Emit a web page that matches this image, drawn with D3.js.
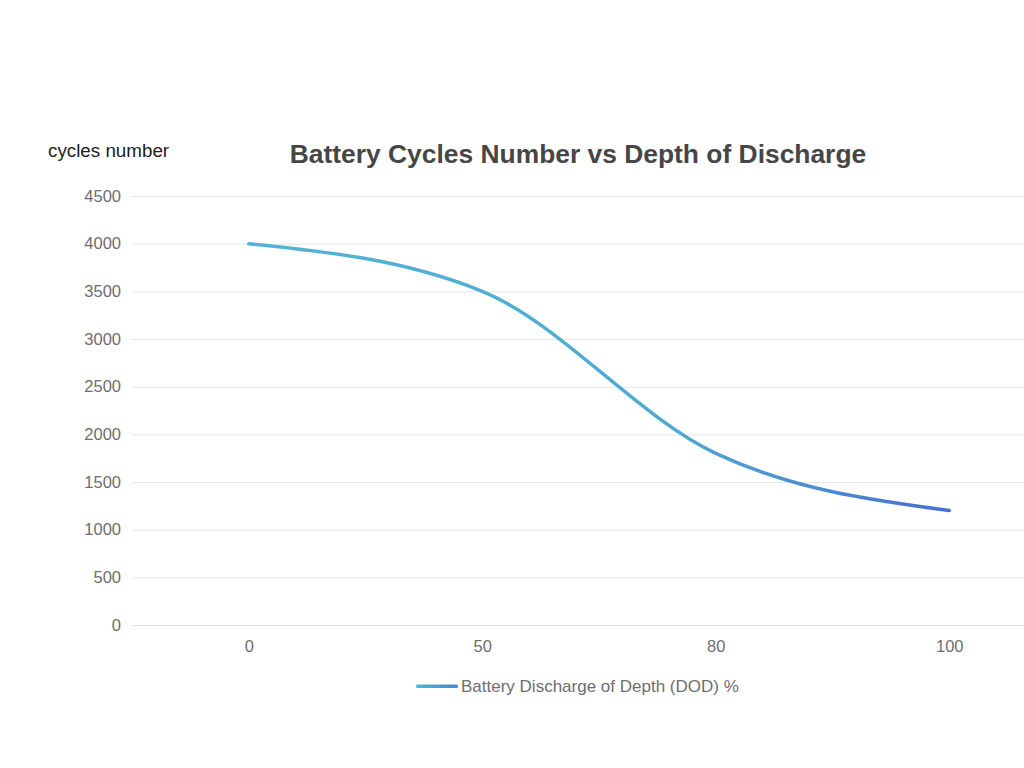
<!DOCTYPE html>
<html><head><meta charset="utf-8">
<script src="https://cdn.jsdelivr.net/npm/d3@7"></script>
<style>body{margin:0;background:#fff;overflow:hidden}svg{display:block}</style>
</head><body>
<svg id="c" width="1024" height="768"></svg>
<script>
const categories = ["0", "50", "80", "100"];
const cycles = [4000, 3500, 1800, 1200];
const yTicks = [0, 500, 1000, 1500, 2000, 2500, 3000, 3500, 4000, 4500];
const titleText = "Battery Cycles Number vs Depth of Discharge";
const yAxisName = "cycles number";
const seriesName = "Battery Discharge of Depth (DOD) %";

const svg = d3.select("#c");
const font = "'Liberation Sans', Arial, sans-serif";
const plotLeft = 132, plotRight = 1066, plotTop = 196, plotBottom = 625;

const x = d3.scalePoint().domain(categories).range([plotLeft, plotRight]).padding(0.5);
const y = d3.scaleLinear().domain([0, 4500]).range([plotBottom, plotTop]);

const defs = svg.append("defs");
const grad = defs.append("linearGradient").attr("id", "lg")
  .attr("gradientUnits", "userSpaceOnUse")
  .attr("x1", x("0")).attr("x2", x("100")).attr("y1", 0).attr("y2", 0);
grad.append("stop").attr("offset", "0%").attr("stop-color", "#52b4d4");
grad.append("stop").attr("offset", "60%").attr("stop-color", "#4faad2");
grad.append("stop").attr("offset", "100%").attr("stop-color", "#4a6fcf");
const lgrad = defs.append("linearGradient").attr("id", "lg2");
lgrad.append("stop").attr("offset", "0%").attr("stop-color", "#52b4d4");
lgrad.append("stop").attr("offset", "100%").attr("stop-color", "#4a8ad0");

// grid + y labels
const yAxis = d3.axisLeft(y).tickValues(yTicks).tickFormat(d3.format("d"))
  .tickSize(-(plotRight - plotLeft)).tickPadding(11);
const gy = svg.append("g").attr("transform", `translate(${plotLeft},0)`).call(yAxis);
gy.select(".domain").remove();
gy.selectAll(".tick line").attr("stroke", "#e6e6e6").attr("stroke-width", 1);
gy.selectAll(".tick text").attr("fill", "#6e6e6e").style("font-family", font).style("font-size", "16.5px");

// x axis
const xAxis = d3.axisBottom(x).tickSize(0).tickPadding(15);
const gx = svg.append("g").attr("transform", `translate(0,${plotBottom})`).call(xAxis);
gx.select(".domain").attr("stroke", "#e0e0e0");
gx.selectAll(".tick text").attr("fill", "#6e6e6e").style("font-family", font).style("font-size", "16.5px");

// line
const line = d3.line().x((d, i) => x(categories[i])).y(d => y(d)).curve(d3.curveMonotoneX);
svg.append("path").datum(cycles).attr("d", line)
  .attr("fill", "none").attr("stroke", "url(#lg)").attr("stroke-width", 3.5)
  .attr("stroke-linecap", "round");

// title
svg.append("text").attr("x", 578).attr("y", 163).attr("text-anchor", "middle")
  .style("font-family", font).style("font-size", "26.4px").style("font-weight", "bold")
  .attr("fill", "#464646").text(titleText);

svg.append("text").attr("x", 48).attr("y", 157)
  .style("font-family", font).style("font-size", "18.8px").attr("fill", "#222").text(yAxisName);

// legend
svg.append("rect").attr("x", 416).attr("y", 684.5).attr("width", 42).attr("height", 3.5).attr("rx", 1.5)
  .attr("fill", "url(#lg2)");
svg.append("text").attr("x", 461).attr("y", 692)
  .style("font-family", font).style("font-size", "17px").attr("fill", "#6e6e6e").text(seriesName);
</script>
</body></html>
